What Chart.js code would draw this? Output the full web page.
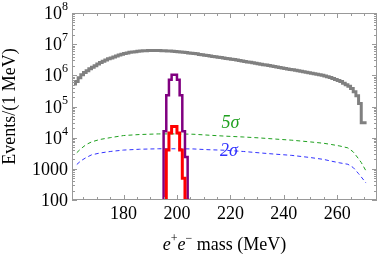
<!DOCTYPE html>
<html>
<head>
<meta charset="UTF-8">
<title>e+e- mass</title>
<script src="https://cdn.jsdelivr.net/npm/chart.js@4.4.0/dist/chart.umd.min.js"></script>
<style>
  html, body { margin: 0; padding: 0; background: #fff; }
  canvas { display: block; }
</style>
</head>
<body>
<canvas id="chart1" width="382" height="255"></canvas>
<script>
// axis ticks
var xTicks = [180, 200, 220, 240, 260];
var yTicks = [100, 1000, 1e4, 1e5, 1e6, 1e7, 1e8];
var yTickBase = ['100', '1000', '10', '10', '10', '10', '10'];
var yTickExp = ['', '', '4', '5', '6', '7', '8'];

// background, 1 MeV bins starting at bgStart
var bgStart = 162;
var bgValues = [
  4.7e5, 6.3e5, 8.3e5, 1.05e6, 1.23e6, 1.41e6, 1.62e6, 1.82e6, 2.04e6, 2.29e6,
  2.57e6, 2.82e6, 3.09e6, 3.39e6, 3.63e6, 3.89e6, 4.17e6, 4.47e6, 4.79e6, 5.0e6,
  5.25e6, 5.5e6, 5.62e6, 5.75e6, 5.89e6, 6.0e6, 6.15e6, 6.2e6, 6.3e6, 6.3e6,
  6.3e6, 6.3e6, 6.25e6, 6.2e6, 6.15e6, 6.05e6, 6.0e6, 5.9e6, 5.85e6, 5.75e6,
  5.65e6, 5.5e6, 5.4e6, 5.25e6, 5.1e6, 5.0e6, 4.9e6, 4.7e6, 4.6e6, 4.45e6,
  4.3e6, 4.2e6, 4.05e6, 3.95e6, 3.8e6, 3.7e6, 3.6e6, 3.5e6, 3.4e6, 3.3e6,
  3.2e6, 3.1e6, 3.0e6, 2.9e6, 2.8e6, 2.7e6, 2.63e6, 2.53e6, 2.45e6, 2.36e6,
  2.28e6, 2.2e6, 2.13e6, 2.05e6, 1.98e6, 1.92e6, 1.85e6, 1.79e6, 1.73e6, 1.67e6,
  1.61e6, 1.55e6, 1.5e6, 1.45e6, 1.4e6, 1.35e6, 1.3e6, 1.26e6, 1.22e6, 1.17e6,
  1.13e6, 1.09e6, 1.04e6, 1.0e6, 9.5e5, 9.0e5, 8.5e5, 7.9e5, 7.3e5, 6.8e5,
  6.3e5, 5.6e5, 5.0e5, 4.5e5, 3.8e5, 3.0e5, 2.2e5, 1.25e5, 3.0e4
];

// signal peaks, 1 MeV bins
var purpleStart = 195;
var purpleValues = [2.4e3, 1.6e4, 2.3e5, 7.2e5, 1.05e6, 1.05e6, 7.2e5, 2.3e5, 1.6e4, 2.4e3];
var redStart = 196;
var redValues = [5e2, 4e3, 1.4e4, 2.3e4, 2.3e4, 1.4e4, 4e3, 5e2];

// 5 sigma / 2 sigma curves
var sigmaMass = [162.5, 164, 166, 168, 171, 175, 180, 186, 193, 200,
  206, 212, 218, 225, 231, 237, 243, 250, 255, 258,
  261, 264, 266, 268, 269, 270.8];
var fiveSigma = [3.3e3, 4.4e3, 6.0e3, 7.3e3, 8.7e3, 1.0e4, 1.17e4, 1.26e4, 1.32e4, 1.32e4,
  1.29e4, 1.2e4, 1.12e4, 1.05e4, 9.8e3, 9.0e3, 8.3e3, 7.3e3, 6.6e3, 6.0e3,
  5.4e3, 4.7e3, 3.5e3, 2.1e3, 1.6e3, 8.5e2];
var twoSigma = [1.38e3, 1.8e3, 2.3e3, 2.8e3, 3.2e3, 3.6e3, 4.0e3, 4.25e3, 4.4e3, 4.4e3,
  4.35e3, 4.1e3, 3.95e3, 3.6e3, 3.25e3, 2.95e3, 2.7e3, 2.3e3, 2.0e3, 1.75e3,
  1.55e3, 1.4e3, 1.1e3, 7.0e2, 5.5e2, 3.5e2];

var yMin = 100;

function histPoints(start, vals, closed) {
  var pts = [];
  if (closed) pts.push({x: start, y: yMin});
  for (var i = 0; i < vals.length; i++) pts.push({x: start + i, y: vals[i]});
  pts.push({x: start + vals.length, y: closed ? yMin : vals[vals.length - 1]});
  return pts;
}

function curvePoints(xs, ys) {
  return xs.map(function (x, i) { return {x: x, y: ys[i]}; });
}

var serif = "'Liberation Serif', 'DejaVu Serif', serif";

var framePlugin = {
  id: 'frame',
  afterDraw: function (chart) {
    var c = chart.ctx, a = chart.chartArea;
    var xs = chart.scales.x, ys = chart.scales.y;
    c.save();
    c.strokeStyle = '#999';
    c.lineWidth = 1;
    c.strokeRect(a.left + 0.5, a.top + 0.5, a.right - a.left - 1, a.bottom - a.top - 1);

    c.beginPath();
    for (var m = 165; m <= 270; m += 5) {
      var px = Math.round(xs.getPixelForValue(m)) + 0.5;
      var len = xTicks.indexOf(m) >= 0 ? 5 : 3;
      c.moveTo(px, a.bottom); c.lineTo(px, a.bottom - len);
      c.moveTo(px, a.top); c.lineTo(px, a.top + len);
    }
    for (var k = 2; k < 8; k++) {
      for (var j = 1; j < 10; j++) {
        var py = Math.round(ys.getPixelForValue(j * Math.pow(10, k))) + 0.5;
        var l = j === 1 ? 5 : 3;
        c.moveTo(a.left, py); c.lineTo(a.left + l, py);
        c.moveTo(a.right, py); c.lineTo(a.right - l, py);
      }
    }
    c.stroke();

    // y tick labels
    c.fillStyle = '#000';
    c.textAlign = 'right';
    c.textBaseline = 'alphabetic';
    for (var i = 0; i < yTicks.length; i++) {
      var y = ys.getPixelForValue(yTicks[i]);
      var right = a.left - 4;
      if (yTickExp[i]) {
        c.font = '12px ' + serif;
        c.fillText(yTickExp[i], right, y - 3);
        right -= c.measureText(yTickExp[i]).width;
      }
      c.font = '18px ' + serif;
      c.fillText(yTickBase[i], right, y + 6);
    }

    // x title
    var parts = [
      {t: 'e', f: 'italic 18px ', dy: 0},
      {t: '+', f: '12px ', dy: -8},
      {t: 'e', f: 'italic 18px ', dy: 0},
      {t: '\u2212', f: '12px ', dy: -8},
      {t: ' mass (MeV)', f: '18px ', dy: 0}
    ];
    var total = 0;
    parts.forEach(function (p) { c.font = p.f + serif; p.w = c.measureText(p.t).width; total += p.w; });
    var x0 = (a.left + a.right) / 2 - total / 2;
    c.textAlign = 'left';
    parts.forEach(function (p) { c.font = p.f + serif; c.fillText(p.t, x0, 250 + p.dy); x0 += p.w; });

    // y title
    c.save();
    c.translate(15, (a.top + a.bottom) / 2);
    c.rotate(-Math.PI / 2);
    c.textAlign = 'center';
    c.font = '18px ' + serif;
    c.fillText('Events/(1 MeV)', 0, 0);
    c.restore();

    // sigma labels
    c.textAlign = 'center';
    c.textBaseline = 'middle';
    c.font = 'italic 18px ' + serif;
    c.fillStyle = 'rgb(30,160,30)';
    c.fillText('5\u03c3', xs.getPixelForValue(220), ys.getPixelForValue(3e4));
    c.fillStyle = 'rgb(50,50,255)';
    c.fillText('2\u03c3', xs.getPixelForValue(219.5), ys.getPixelForValue(3.6e3));
    c.restore();
  }
};

var ctx1 = document.getElementById('chart1');
var chart1 = new Chart(ctx1, {
  type: 'line',
  data: {
    datasets: [
      {
        label: 'red',
        data: histPoints(redStart, redValues, true),
        borderColor: '#ff0000',
        borderWidth: 3,
        stepped: 'after',
        fill: false
      },
      {
        label: 'purple',
        data: histPoints(purpleStart, purpleValues, true),
        borderColor: '#800080',
        borderWidth: 2.5,
        stepped: 'after',
        fill: false
      },
      {
        label: 'background',
        data: histPoints(bgStart, bgValues, false),
        borderColor: '#808080',
        borderWidth: 3,
        stepped: 'after',
        fill: false
      },
      {
        label: '2 sigma',
        data: curvePoints(sigmaMass, twoSigma),
        borderColor: 'rgb(50,50,255)',
        borderWidth: 1,
        borderDash: [4, 3],
        fill: false
      },
      {
        label: '5 sigma',
        data: curvePoints(sigmaMass, fiveSigma),
        borderColor: 'rgb(30,160,30)',
        borderWidth: 1,
        borderDash: [4, 3],
        fill: false
      }
    ]
  },
  options: {
    responsive: false,
    animation: false,
    devicePixelRatio: 1,
    layout: { padding: { top: 13, right: 5, left: 0, bottom: 0 } },
    plugins: { legend: { display: false }, tooltip: { enabled: false } },
    elements: { point: { radius: 0 }, line: { tension: 0 } },
    scales: {
      x: {
        type: 'linear',
        min: 160.7,
        max: 274.9,
        grid: { display: false, drawTicks: false },
        border: { display: false },
        afterBuildTicks: function (s) { s.ticks = xTicks.map(function (v) { return {value: v}; }); },
        afterFit: function (s) { s.height = 55; },
        ticks: {
          font: { family: serif, size: 18 },
          color: '#000',
          padding: 3,
          maxRotation: 0,
          autoSkip: false
        }
      },
      y: {
        type: 'logarithmic',
        min: 100,
        max: 1e8,
        grid: { display: false, drawTicks: false },
        border: { display: false },
        afterBuildTicks: function (s) { s.ticks = yTicks.map(function (v) { return {value: v}; }); },
        afterFit: function (s) { s.width = 72; },
        ticks: { display: false }
      }
    }
  },
  plugins: [framePlugin]
});
</script>
</body>
</html>
